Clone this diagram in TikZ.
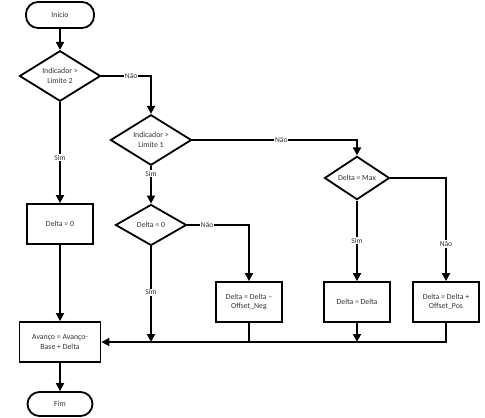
\documentclass[tikz,border=0pt]{standalone}
\usepackage{fontspec}
\setmainfont{Carlito}
\usetikzlibrary{shapes.geometric, arrows.meta}

\tikzset{
  terminal/.style={draw, rounded corners=12pt, minimum width=68pt, minimum height=26pt},
  decision/.style={draw, diamond, inner sep=0pt, align=center},
  process/.style={draw, minimum width=66pt, minimum height=40pt, align=center},
  flow/.style={-{Triangle[length=8pt,width=8pt]}},
  lbl/.style={fill=white, inner sep=1pt, font=\fontsize{7.5}{8}\selectfont}
}

\begin{document}
\begin{tikzpicture}[x=1pt, y=-1pt, line width=1.8pt, text=black!80,
    font=\fontsize{7.8}{9.5}\selectfont]
  \useasboundingbox (0,0) rectangle (485,418);

  % nodes
  \node[terminal] (inicio) at (60,15) {Inicio};
  \node[decision, minimum width=81pt, minimum height=47pt] (d2) at (60,76) {Indicador >\\Limite 2};
  \node[decision, minimum width=81pt, minimum height=47pt] (d1) at (151,140) {Indicador >\\Limite 1};
  \node[decision, minimum width=71pt, minimum height=41pt] (d0) at (151,225) {Delta = 0};
  \node[decision, minimum width=65pt, minimum height=39pt] (dmax) at (357,178) {Delta = Max};
  \node[process] (zero) at (60,224) {Delta = 0};
  \node[process] (neg) at (249,302) {Delta = Delta –\\Offset\_Neg};
  \node[process] (delta) at (357,302) {Delta = Delta};
  \node[process] (pos) at (446,302) {Delta = Delta +\\Offset\_Pos};
  \node[process, minimum width=81pt] (avanco) at (60,342) {Avanço = Avanço-\\Base + Delta};
  \node[terminal, minimum width=65pt, minimum height=24pt] (fim) at (60,404) {Fim};

  \coordinate (jsim) at (d0.south |- avanco.east);
  \coordinate (jneg) at (neg.south |- avanco.east);
  \coordinate (jdelta) at (delta.south |- avanco.east);

  % connectors
  \draw[flow] (inicio) -- (d2);
  \draw[flow] (d2.east) -| node[lbl, pos=0.3] {Não} (d1.north);
  \draw[flow] (d2) -- node[lbl, pos=0.55] {Sim} (zero);
  \draw[flow] (zero) -- (avanco);
  \draw[flow] (avanco) -- (fim);
  \draw[flow] (d1) -- node[lbl, pos=0.2] {Sim} (d0);
  \draw[flow] (d1.east) -| node[lbl, pos=0.27] {Não} (dmax.north);
  \draw[flow] (d0.east) -| node[lbl, pos=0.16] {Não} (neg.north);
  \draw[flow] (d0) -- node[lbl, pos=0.48] {Sim} (jsim);
  \draw[flow] (dmax) -- node[lbl, pos=0.5] {Sim} (delta);
  \draw[flow] (dmax.east) -| node[lbl, pos=0.82] {Não} (pos.north);
  \draw (neg) -- (jneg);
  \draw[flow] (delta) -- (jdelta);
  \draw[flow] (pos.south) |- (avanco.east);
\end{tikzpicture}
\end{document}
